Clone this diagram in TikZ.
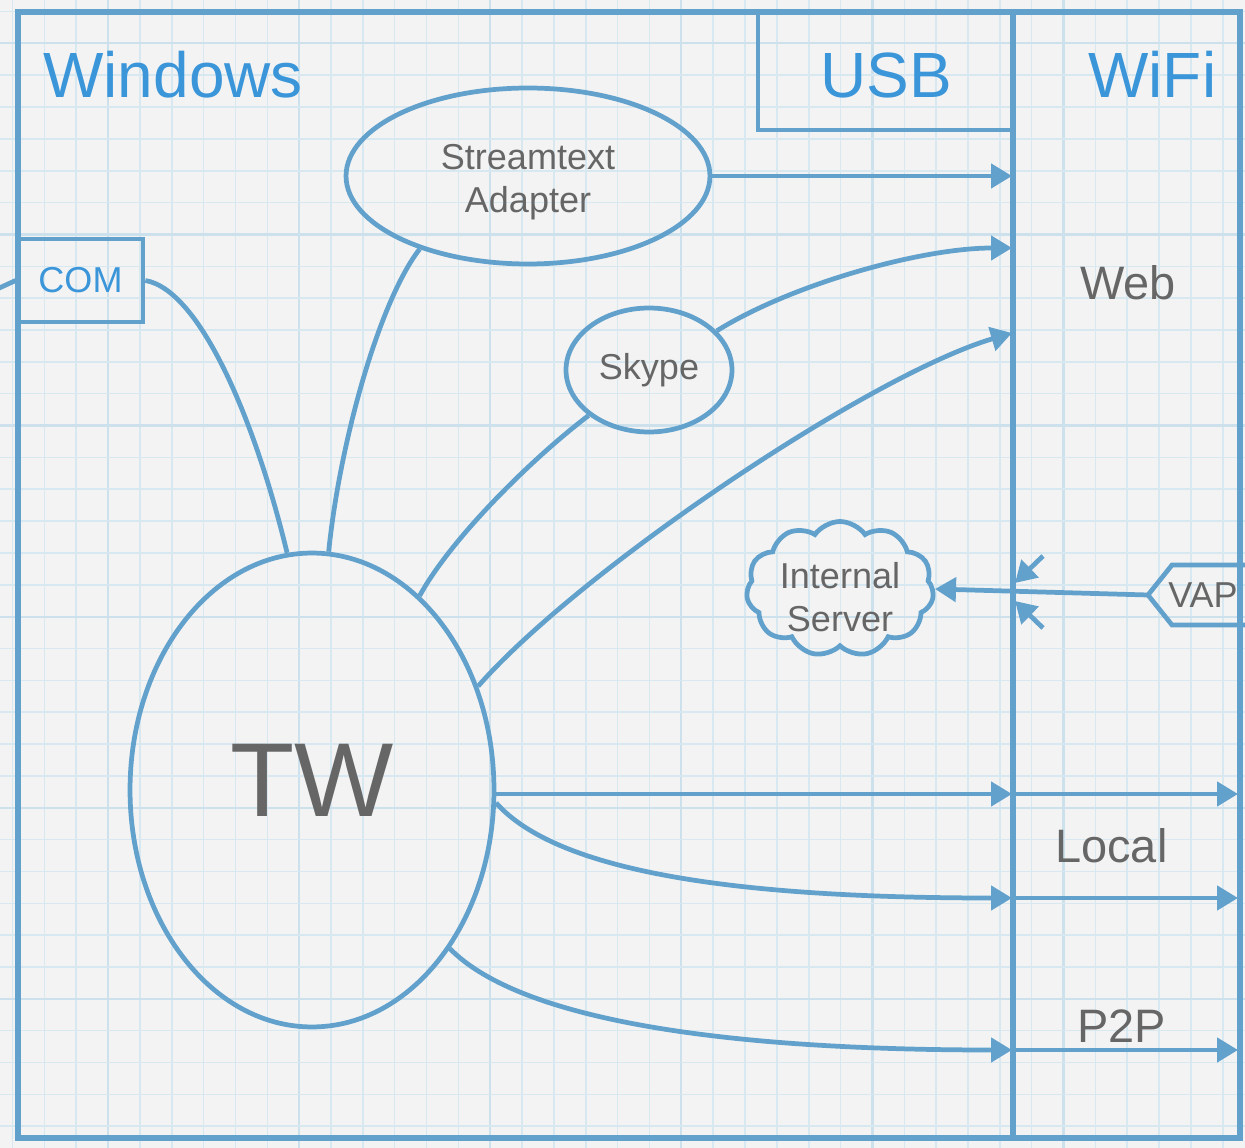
\documentclass[tikz,border=0pt]{standalone}
\usepackage{fontspec}
\setmainfont{Liberation Sans}
\usetikzlibrary{arrows.meta,shapes.geometric,shapes.symbols}
\definecolor{lnc}{RGB}{98,161,204}
\definecolor{ttl}{RGB}{58,149,217}
\definecolor{gtx}{RGB}{102,102,102}
\definecolor{bgc}{RGB}{243,243,243}
\definecolor{grd}{RGB}{216,232,241}
\definecolor{grdm}{RGB}{205,225,237}
\tikzset{
  ln/.style={draw=lnc,line width=2.7pt},
  arr/.style={ln,-{Triangle[length=0.42cm,width=0.48cm]}},
  title/.style={text=ttl,font=\fontsize{36.4}{40}\selectfont,inner sep=0pt,anchor=base west},
  lbl/.style={text=gtx,font=\fontsize{26.7}{30}\selectfont,inner sep=0pt,anchor=base west},
  small/.style={font=\fontsize{20.5}{24.6}\selectfont},
}
\begin{document}
\begin{tikzpicture}[x=0.02cm,y=-0.02cm]
\useasboundingbox (0,0) rectangle (1245,1148);
\clip (0,0) rectangle (1245,1148);
\fill[bgc] (0,0) rectangle (1245,1148);
% grid
\foreach \i in {0,...,39}{
  \pgfmathsetmacro\xx{12.5+31.85*\i}
  \pgfmathtruncatemacro\m{mod(\i,6)}
  \ifnum\m=3 \draw[grdm,line width=1.3pt] (\xx,0) -- (\xx,1148);
  \else \draw[grd,line width=0.9pt] (\xx,0) -- (\xx,1148); \fi
}
\foreach \i in {0,...,36}{
  \pgfmathsetmacro\yy{11.5+31.85*\i}
  \pgfmathtruncatemacro\m{mod(\i,6)}
  \ifnum\m=1 \draw[grdm,line width=1.3pt] (0,\yy) -- (1245,\yy);
  \else \draw[grd,line width=0.9pt] (0,\yy) -- (1245,\yy); \fi
}
% frames
\draw[ln,line width=2.9pt] (18,12) rectangle (1240,1138);
\draw[ln,line width=2.9pt] (1013,9) -- (1013,1138);
\draw[ln] (758,15) -- (758,130) -- (1013,130);
% titles
\node[title] (win) at (43,98) {Windows};
\node[title] (usb) at (820,98) {USB};
\node[title] (wifi) at (1088,98) {WiFi};
\node[lbl] (web) at (1080,300) {Web};
\node[lbl] (local) at (1055,863) {Local};
\node[lbl] (p2p) at (1077,1042) {P2P};
% nodes
\node[ln,fill=none,rectangle,minimum width=2.5cm,minimum height=1.66cm,inner sep=0pt,text=ttl,small] (com) at (80.5,280.5) {COM};
\node[ln,ellipse,minimum width=7.28cm,minimum height=3.52cm,inner sep=0pt] (st) at (528,176) {};
\node[align=center,text=gtx,small,inner sep=0pt] (stl) at (528,182) {Streamtext\\Adapter};
\node[ln,ellipse,minimum width=3.32cm,minimum height=2.48cm,inner sep=0pt,text=gtx,small] (sk) at (649,370) {Skype};
\node[ln,ellipse,minimum width=7.28cm,minimum height=9.48cm,inner sep=0pt] (tw) at (312,790) {};
\node[text=gtx,font=\fontsize{59.8}{64}\selectfont,inner sep=0pt] (twl) at (312,780) {TW};
\node[ln,cloud,cloud puffs=11,cloud puff arc=110,aspect=1.45,minimum width=3.75cm,minimum height=2.7cm,inner sep=0pt] (srv) at (840,589) {};
\node[align=center,text=gtx,small,inner sep=0pt] (srvl) at (840,597) {Internal\\Server};
% VAP
\draw[ln] (1262,565) -- (1172,565) -- (1148,595) -- (1172,625) -- (1262,625);
\node[text=gtx,small,inner sep=0pt,anchor=base west] (vap) at (1168,608) {VAP};
\coordinate (vapl) at (1148,595);
% line endpoints
\coordinate (e1) at (1012,176);
\coordinate (e2) at (1012,248);
\coordinate (e3) at (1012,333);
\coordinate (e4) at (1012,794);
\coordinate (e5) at (1012,898);
\coordinate (e6) at (1012,1050);
\coordinate (r4) at (1238,794);
\coordinate (r5) at (1238,898);
\coordinate (r6) at (1238,1050);
\coordinate (m4) at (1014,794);
\coordinate (m5) at (1014,898);
\coordinate (m6) at (1014,1050);
\coordinate (offl) at (-5,290);
\coordinate (ka) at (1043,556);
\coordinate (kb) at (1043,628);
\coordinate (kae) at (1015,583);
\coordinate (kbe) at (1015,601);
% connectors
\draw[ln] (com.west) -- (offl);
\draw[ln] (com.east) .. controls (200,290) and (255,420) .. (tw.96);
\draw[ln] (st.214) .. controls (380,300) and (340,440) .. (tw.86);
\draw[ln] (sk.217) .. controls (530,460) and (450,540) .. (tw.61);
\draw[arr] (st.east) -- (e1);
\draw[arr] (sk.30) .. controls (790,285) and (920,248) .. (e2);
\draw[arr] (tw.32) .. controls (580,570) and (870,375) .. (e3);
\draw[arr] (tw.east |- e4) -- (e4);
\draw[arr] (tw.-4) .. controls (560,875) and (750,898) .. (e5);
\draw[arr] (tw.-49) .. controls (515,1015) and (700,1050) .. (e6);
\draw[arr] (m4) -- (r4);
\draw[arr] (m5) -- (r5);
\draw[arr] (m6) -- (r6);
\draw[arr] (vapl) -- (srv.east);
\draw[arr] (ka) -- (kae);
\draw[arr] (kb) -- (kbe);
\end{tikzpicture}
\end{document}
